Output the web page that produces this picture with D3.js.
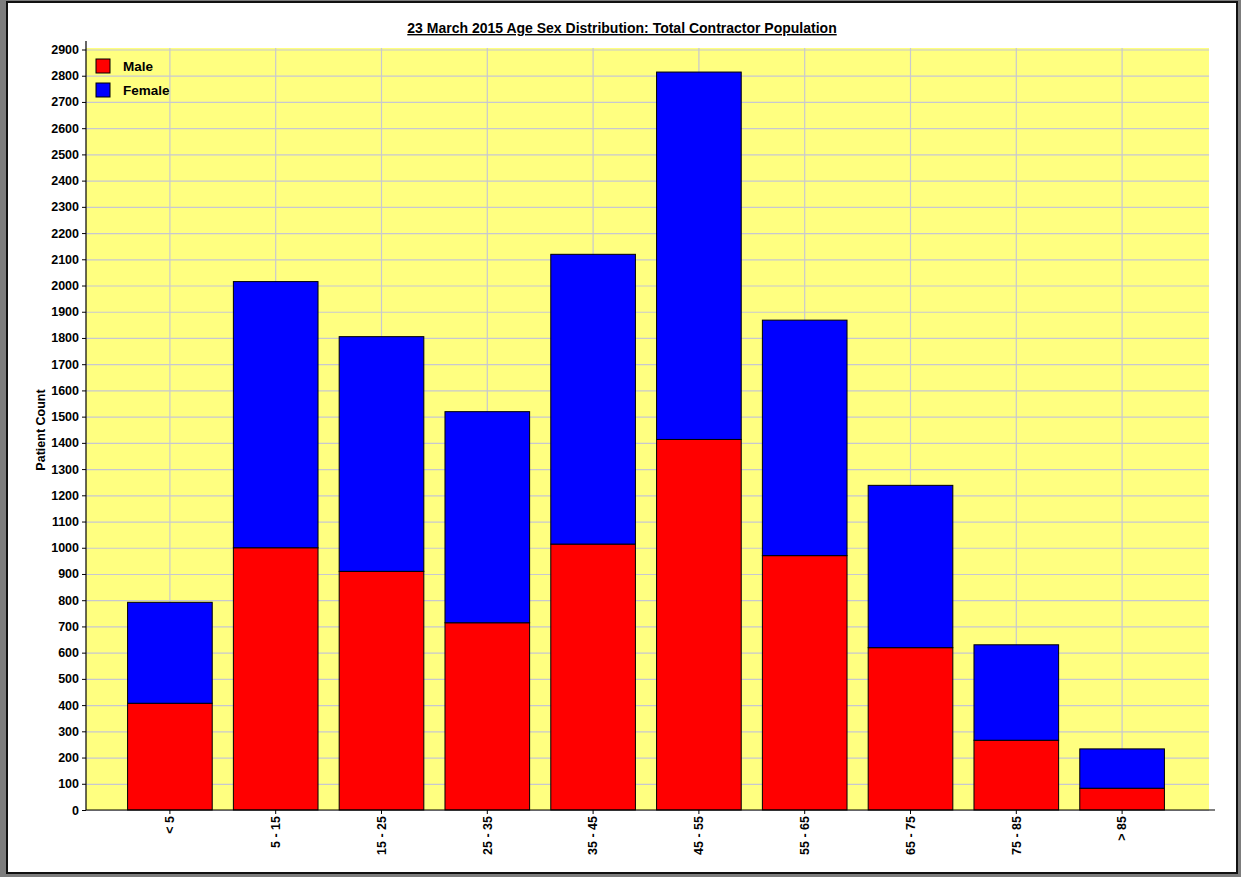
<!DOCTYPE html>
<html>
<head>
<meta charset="utf-8">
<script src="https://cdn.jsdelivr.net/npm/d3@7"></script>
<style>
  html, body { margin: 0; padding: 0; background: #7d7d7d; }
  svg { display: block; font-family: "Liberation Sans", Arial, sans-serif; }
</style>
</head>
<body>
<svg id="chart" width="1241" height="877"></svg>
<script>
const categorias = ["< 5", "5 - 15", "15 - 25", "25 - 35", "35 - 45", "45 - 55", "55 - 65", "65 - 75", "75 - 85", "> 85"];
const masculino = [407, 1000, 910, 714, 1014, 1413, 970, 619, 266, 83];
const feminino = [385, 1015, 895, 805, 1105, 1401, 898, 619, 364, 150];
const series = ["Male", "Female"];
const cores = ["#ff0000", "#0000ff"];
const ticksY = d3.range(0, 2901, 100);

const plot = { left: 86, right: 1209, top: 48, bottom: 810 };

const svg = d3.select("#chart");

// moldura da janela
svg.append("rect")
  .attr("x", 7).attr("y", 2)
  .attr("width", 1230).attr("height", 871)
  .attr("fill", "#ffffff")
  .attr("stroke", "#111")
  .attr("stroke-width", 2);

const dados = categorias.map((c, i) => ({ faixa: c, Male: masculino[i], Female: feminino[i] }));
const pilha = d3.stack().keys(series)(dados);

const x = d3.scaleBand()
  .domain(categorias)
  .range([plot.left, 1206])
  .paddingInner(0.2)
  .paddingOuter(0.393);

const y = d3.scaleLinear()
  .domain([0, 2900])
  .range([plot.bottom, 49.5]);

const cor = d3.scaleOrdinal().domain(series).range(cores);
const fonte = "'Liberation Sans', Arial, sans-serif";

// fundo amarelo
svg.append("rect")
  .attr("x", plot.left).attr("y", plot.top)
  .attr("width", plot.right - plot.left)
  .attr("height", plot.bottom - plot.top)
  .attr("fill", "#ffff80");

// grade horizontal
svg.append("g")
  .attr("transform", `translate(${plot.left},0)`)
  .call(d3.axisLeft(y).tickValues(ticksY).tickSize(-(plot.right - plot.left)).tickFormat(""))
  .call((sel) => sel.select(".domain").remove())
  .call((sel) => sel.selectAll("line").attr("stroke", "#c8c8d0").attr("stroke-width", 1.2));

// grade vertical nos centros das categorias
svg.append("g")
  .selectAll("line")
  .data(categorias)
  .join("line")
  .attr("x1", (d) => x(d) + x.bandwidth() / 2)
  .attr("x2", (d) => x(d) + x.bandwidth() / 2)
  .attr("y1", plot.top)
  .attr("y2", plot.bottom)
  .attr("stroke", "#c8c8d0")
  .attr("stroke-width", 1.2);

// barras empilhadas
svg.append("g")
  .selectAll("g")
  .data(pilha)
  .join("g")
  .attr("fill", (s) => cor(s.key))
  .selectAll("rect")
  .data((s) => s)
  .join("rect")
  .attr("x", (d) => x(d.data.faixa))
  .attr("width", x.bandwidth())
  .attr("y", (d) => y(d[1]))
  .attr("height", (d) => y(d[0]) - y(d[1]))
  .attr("stroke", "#000")
  .attr("stroke-width", 1);

// eixo Y
svg.append("g")
  .attr("transform", `translate(${plot.left},0)`)
  .call(d3.axisLeft(y).tickValues(ticksY).tickFormat(d3.format("d")).tickSize(4).tickPadding(3))
  .call((sel) => sel.select(".domain").remove())
  .call((sel) => sel.selectAll("line").attr("stroke", "#000"))
  .call((sel) => sel.selectAll("text")
    .attr("fill", "#000")
    .attr("font-size", "12.5px")
    .attr("font-weight", "700")
    .attr("font-family", fonte));

svg.append("line")
  .attr("x1", plot.left).attr("x2", plot.left)
  .attr("y1", 41).attr("y2", plot.bottom)
  .attr("stroke", "#000").attr("stroke-width", 1.2);

// eixo X
svg.append("g")
  .attr("transform", `translate(0,${plot.bottom})`)
  .call(d3.axisBottom(x).tickSize(4).tickSizeOuter(0))
  .call((sel) => sel.select(".domain").remove())
  .call((sel) => sel.selectAll("line").attr("stroke", "#000"))
  .call((sel) => sel.selectAll("text")
    .attr("fill", "#000")
    .attr("font-size", "12.5px")
    .attr("font-weight", "700")
    .attr("font-family", fonte)
    .attr("text-anchor", "end")
    .attr("transform", "rotate(-90)")
    .attr("x", -6)
    .attr("y", 0)
    .attr("dy", "0.35em"));

svg.append("line")
  .attr("x1", plot.left).attr("x2", 1215)
  .attr("y1", plot.bottom).attr("y2", plot.bottom)
  .attr("stroke", "#000").attr("stroke-width", 1.2);

// legenda
const legenda = svg.append("g")
  .attr("transform", "translate(96,59)")
  .selectAll("g")
  .data(series)
  .join("g")
  .attr("transform", (d, i) => `translate(0,${i * 24})`);

legenda.append("rect")
  .attr("width", 14).attr("height", 14)
  .attr("fill", (d) => cor(d))
  .attr("stroke", "#000");

legenda.append("text")
  .attr("x", 27).attr("y", 12)
  .attr("font-size", "13.5px")
  .attr("font-weight", "700")
  .attr("fill", "#000")
  .text((d) => d);

// título
svg.append("text")
  .attr("x", 622).attr("y", 33)
  .attr("text-anchor", "middle")
  .attr("font-size", "14px")
  .attr("font-weight", "700")
  .attr("text-decoration", "underline")
  .attr("fill", "#000")
  .text("23 March 2015 Age Sex Distribution: Total Contractor Population");

// rótulo do eixo Y
svg.append("text")
  .attr("transform", "translate(45,430) rotate(-90)")
  .attr("text-anchor", "middle")
  .attr("font-size", "12.5px")
  .attr("font-weight", "700")
  .attr("fill", "#000")
  .text("Patient Count");
</script>
</body>
</html>
